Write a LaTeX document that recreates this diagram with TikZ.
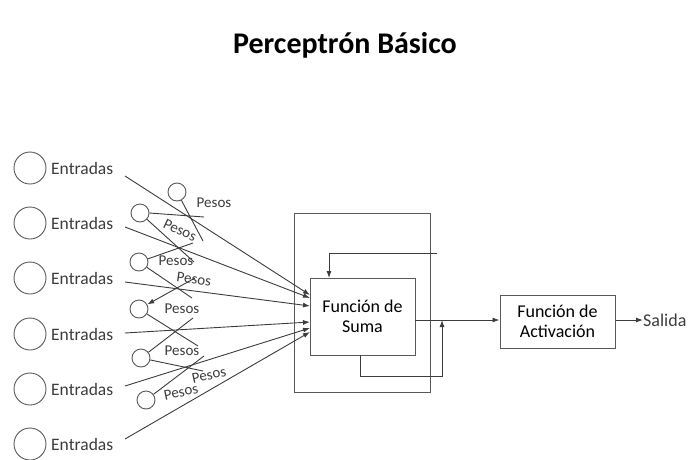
\documentclass[tikz,border=0pt]{standalone}
\usepackage{fontspec}
\setmainfont{Carlito}
\usetikzlibrary{arrows.meta}
\definecolor{ln}{HTML}{3C3C3C}
\tikzset{
  incirc/.style={circle,draw=ln!85,line width=0.9pt,minimum size=32pt,inner sep=0pt},
  wcirc/.style={circle,draw=ln!85,line width=0.9pt,minimum size=18pt,inner sep=0pt},
  boxn/.style={draw=ln!85,line width=1pt,inner sep=0pt,align=center,font=\fontsize{18}{20}\selectfont},
  entr/.style={anchor=base west,inner sep=0pt,font=\fontsize{17.5}{20}\selectfont,text=ln},
  pesos/.style={inner sep=0pt,font=\fontsize{15}{17}\selectfont,text=ln},
  wire/.style={draw=ln,line width=0.9pt},
  arr/.style={wire,-{Latex[length=7pt,width=5pt]}}
}
\begin{document}
\begin{tikzpicture}[x=1pt,y=-1pt]
\useasboundingbox (0,0) rectangle (689,459);
% title
\node[inner sep=0pt,font=\fontsize{30}{32}\selectfont\bfseries] (title) at (345,45) {Perceptrón Básico};
% inputs
\foreach \i/\y in {1/168,2/223,3/278,4/334,5/389,6/444}{
  \node[incirc] (in\i) at (30,\y) {};
  \node[entr] (e\i) at (51,\y+6) {Entradas};
}
\coordinate (s1) at (125,176);
\coordinate (s2) at (125,227);
\coordinate (s3) at (125,282);
\coordinate (s4) at (125,333);
\coordinate (s5) at (125,386);
\coordinate (s6) at (125,439);
% boxes
\node[boxn,minimum width=136pt,minimum height=179pt] (outer) at (362,302.5) {};
\node[boxn,minimum width=105pt,minimum height=77pt,fill=white] (sum) at (362.5,316.5) {Función de\\Suma};
\node[boxn,minimum width=115pt,minimum height=53pt] (act) at (557.5,321.5) {Función de\\Activación};
\node[anchor=west,inner sep=0pt,font=\fontsize{18}{20}\selectfont,text=ln] (sal) at (643,320) {Salida};
% arrow targets on sum box
\coordinate (t1) at (310,295);
\coordinate (t2) at (310,298);
\coordinate (t3) at (310,306);
\coordinate (t4) at (310,322);
\coordinate (t5) at (310,328);
\coordinate (t6) at (310,332);
\foreach \i in {1,...,6}{ \draw[arr] (s\i) -- (t\i); }
% feedback loops
\coordinate (fbtop) at (437,253);
\coordinate (fbtopin) at (329,278);
\draw[arr] (fbtop) -| (fbtopin);
\coordinate (fbbot) at (360,355);
\coordinate (fbcorner) at (442,376);
\coordinate (fbend) at (442,320);
\draw[arr] (fbbot) |- (fbcorner) -- (fbend);
% output
\coordinate (sumout) at (415,320);
\draw[arr] (sumout) -- (act.west |- sumout);
\draw[arr] (act.east |- sumout) -- (sal.west);
% weights
\node[wcirc] (w1) at (177,192) {};
\node[wcirc] (w2) at (140,213) {};
\node[wcirc] (w3) at (139,262) {};
\node[wcirc] (w4) at (139,309) {};
\node[wcirc] (w5) at (141,358) {};
\node[wcirc] (w6) at (146,400) {};
\coordinate (a1) at (203,241);
\coordinate (a2) at (204,217);
\coordinate (a3) at (194,262);
\coordinate (a4) at (193,243);
\coordinate (a5) at (192,298);
\coordinate (a6) at (195,278);
\coordinate (a7) at (198,346);
\coordinate (a8) at (193,318);
\coordinate (a9) at (203,371);
\coordinate (a10) at (204,356);
\draw[wire] (w1) -- (a1);
\draw[wire] (w2.east) -- (a2);
\draw[wire] (w2) -- (a3);
\draw[wire] (w3) -- (a4);
\draw[wire] (w3) -- (a5);
\draw[arr] (a6) -- (w4);
\draw[wire] (w4) -- (a7);
\draw[wire] (a8) -- (w5);
\draw[wire] (w5) -- (a9);
\draw[wire] (a10) -- (w6);
% pesos labels
\node[pesos] (p1) at (214,203) {Pesos};
\node[pesos,rotate=-25] (p2) at (180,230) {Pesos};
\node[pesos] (p3) at (176,261) {Pesos};
\node[pesos,rotate=-8] (p4) at (194,279) {Pesos};
\node[pesos] (p5) at (182,309) {Pesos};
\node[pesos] (p6) at (182,351) {Pesos};
\node[pesos,rotate=12] (p7) at (209,375) {Pesos};
\node[pesos,rotate=12] (p8) at (181,392) {Pesos};
\end{tikzpicture}
\end{document}
